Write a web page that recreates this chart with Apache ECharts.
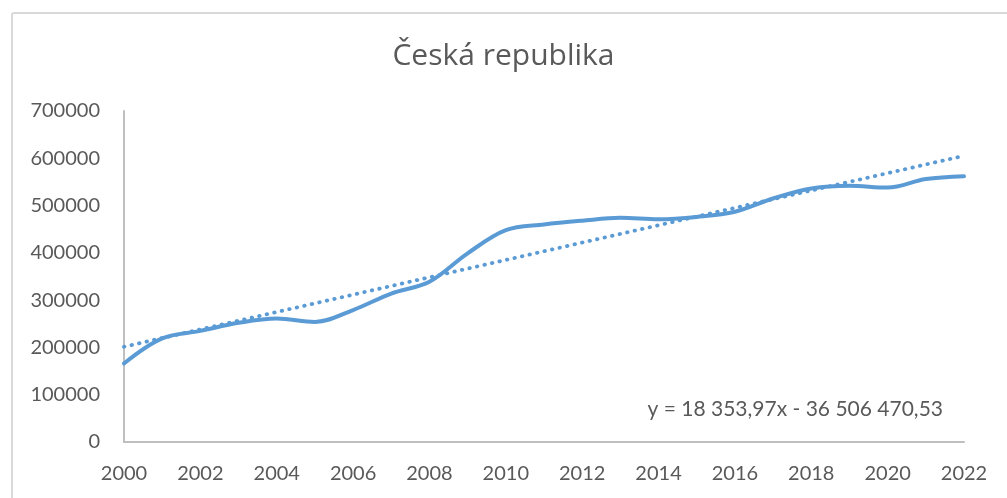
<!DOCTYPE html>
<html>
<head>
<meta charset="utf-8">
<script src="https://cdn.jsdelivr.net/npm/echarts@6/dist/echarts.min.js"></script>
<style>
html,body{margin:0;padding:0;background:#fff;}
#chart{width:1007px;height:498px;}
</style>
</head>
<body>
<div id="chart"></div>
<script>
const years = [2000,2001,2002,2003,2004,2005,2006,2007,2008,2009,2010,2011,2012,2013,2014,2015,2016,2017,2018,2019,2020,2021,2022];
const values = [166000,219000,235000,252000,261000,254000,279000,314000,339000,399000,448000,460000,468000,474000,471000,476000,487000,515000,536000,542000,538000,556000,562000];
const trendYears = [2000, 2022];
const trendValues = [201469, 605257];
const yTicks = [0,100000,200000,300000,400000,500000,600000,700000];
const xTicks = [2000,2002,2004,2006,2008,2010,2012,2014,2016,2018,2020,2022];
const chartTitle = 'Česká republika';
const equation = 'y = 18 353,97x - 36 506 470,53';

const color = '#5b9bd5';
const textColor = '#595959';
const chart = echarts.init(document.getElementById('chart'), null, {renderer:'canvas'});
chart.setOption({
  backgroundColor: '#fff',
  animation: false,
  title: {
    text: chartTitle,
    left: 'center',
    top: 36,
    textStyle: {fontFamily: 'Open Sans', fontSize: 30, fontWeight: 'normal', color: textColor}
  },
  graphic: [
    {type:'rect', shape:{x:12, y:13, width:1100, height:600, r:2}, style:{fill:'none', stroke:'#d9d9d9', lineWidth:2}, silent:true, z:-1},
    {type:'text', x:943, y:409, style:{text: equation, fontFamily:'Lato', fontSize:21, fill:textColor, align:'right', verticalAlign:'middle'}}
  ],
  grid: {left:124, right:43, top:111, bottom:56, containLabel:false},
  xAxis: {
    type: 'value',
    min: xTicks[0],
    max: xTicks[xTicks.length-1],
    interval: 2,
    axisLine: {show:true, lineStyle:{color:'#bfbfbf', width:2}},
    axisTick: {show:false},
    splitLine: {show:false},
    axisLabel: {color:textColor, fontFamily:'Lato', fontSize:20, margin:22, formatter: v => String(v)}
  },
  yAxis: {
    type: 'value',
    min: yTicks[0],
    max: yTicks[yTicks.length-1],
    interval: 100000,
    axisLine: {show:true, lineStyle:{color:'#bfbfbf', width:2}},
    axisTick: {show:false},
    splitLine: {show:false},
    axisLabel: {color:textColor, fontFamily:'Lato', fontSize:20, margin:24, formatter: v => String(v)}
  },
  series: [
    {
      type: 'line',
      data: years.map((y,i)=>[y, values[i]]),
      smooth: 0.35,
      showSymbol: false,
      lineStyle: {color: color, width: 4, cap:'round'},
      z: 3
    },
    {
      type: 'line',
      data: trendYears.map((y,i)=>[y, trendValues[i]]),
      showSymbol: false,
      lineStyle: {color: color, width: 3.8, type: [0.5, 7.2], cap: 'round'},
      z: 2
    }
  ]
});
</script>
</body>
</html>
